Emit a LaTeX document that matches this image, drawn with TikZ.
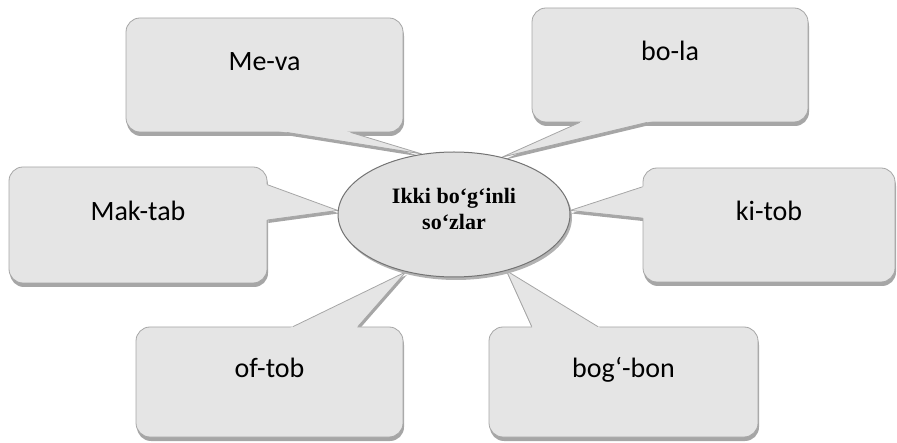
\documentclass[tikz,border=0pt]{standalone}
\usepackage{fontspec}
\setmainfont{Carlito}
\newfontfamily\corefont{Liberation Serif}
\usetikzlibrary{shapes.geometric,shadows,calc}
\pgfdeclarelayer{back}
\pgfdeclarelayer{front}
\pgfsetlayers{back,main,front}

% tail of a callout: box, from side, to side, two fractions, angle on the ellipse
\newcommand{\calltail}[6]{%
  \coordinate (#1-a) at ($(#1.#2)!#4!(#1.#3)$);
  \coordinate (#1-b) at ($(#1.#2)!#5!(#1.#3)$);
  \coordinate (#1-t) at (core.#6);
  \begin{pgfonlayer}{back}
    \fill[tailshade] ([xshift=1pt,yshift=-3pt]#1-a) -- ([xshift=1pt,yshift=-3pt]#1-t) -- ([xshift=1pt,yshift=-3pt]#1-b) -- cycle;
  \end{pgfonlayer}
  \fill[tailfill] ($(#1-t)!1.06!(#1-a)$) -- (#1-t) -- ($(#1-t)!1.06!(#1-b)$) -- cycle;
  \draw[tailline] (#1-a) -- (#1-t) -- (#1-b);
}

\begin{document}
\begin{tikzpicture}[x=1pt,y=-1pt,
    word/.style={draw=black!35,fill=black!10,line width=0.8pt,rounded corners=14pt,inner sep=0pt,
      text height=20pt,text depth=28pt,font=\fontsize{28}{34}\selectfont,
      drop shadow={shadow xshift=1pt,shadow yshift=-4pt,fill=black!35,opacity=1}},
    core/.style={ellipse,draw=black!55,fill=black!12,line width=1pt,inner sep=0pt,
      minimum width=232pt,minimum height=125pt,align=center,text depth=12pt,
      font=\corefont\bfseries\fontsize{22}{26}\selectfont,
      drop shadow={shadow xshift=2pt,shadow yshift=-3pt,fill=black!30,opacity=1}},
    tailfill/.style={fill=black!10},
    tailline/.style={draw=black!35,line width=0.8pt,line join=round},
    tailshade/.style={fill=black!35}]
    \useasboundingbox (0,0) rectangle (897,443);
    \begin{pgfonlayer}{front}
    \node[core] (core) at (454,214.5) {Ikki bo‘g‘inli\\so‘zlar};
    \end{pgfonlayer}
    \node[word,minimum width=277pt,minimum height=114pt] (meva) at (264.5,75) {Me-va};
    \node[word,minimum width=276pt,minimum height=114pt] (bola) at (670,65) {bo-la};
    \node[word,minimum width=258pt,minimum height=116pt] (maktab) at (138,225) {Mak-tab};
    \node[word,minimum width=252pt,minimum height=114pt] (kitob) at (769,225) {ki-tob};
    \node[word,minimum width=267pt,minimum height=110pt] (oftob) at (269.5,382) {of-tob};
    \node[word,minimum width=269pt,minimum height=110pt] (bogbon) at (623.5,382) {bog‘-bon};
    \calltail{meva}{south west}{south east}{0.58}{0.81}{118}
    \calltail{bola}{south west}{south east}{0.174}{0.417}{50}
    \calltail{maktab}{north east}{south east}{0.155}{0.457}{178}
    \calltail{kitob}{north west}{south west}{0.167}{0.44}{2}
    \calltail{oftob}{north west}{north east}{0.588}{0.83}{230}
    \calltail{bogbon}{north west}{north east}{0.16}{0.405}{313}
\end{tikzpicture}
\end{document}
